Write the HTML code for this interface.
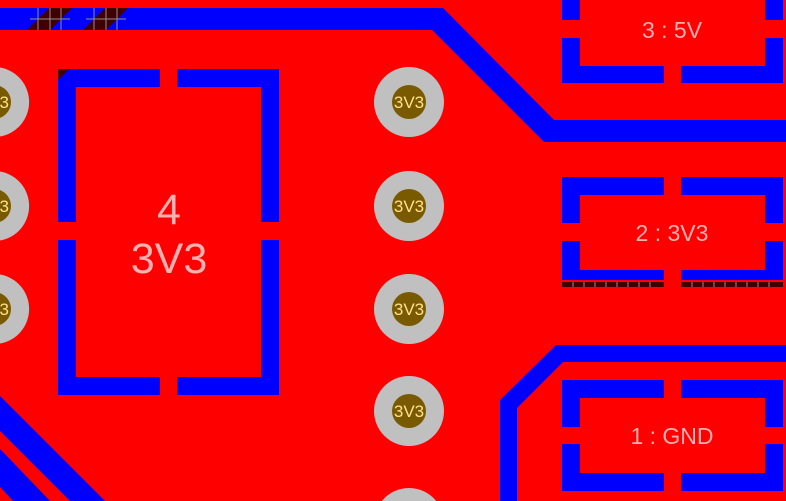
<!DOCTYPE html>
<html><head><style>
html,body{margin:0;padding:0;background:#f00;width:786px;height:501px;overflow:hidden;}
svg{display:block;overflow:hidden;}
text{font-family:"Liberation Sans",sans-serif;}
</style></head><body>
<svg width="786" height="501" viewBox="0 0 786 501" xmlns="http://www.w3.org/2000/svg">
<rect width="786" height="501" fill="#ff0000"/>
<polygon points="0,8 443,8 554,120 786,120 786,142 544,142 432,30 0,30" fill="#0000ff"/>
<polygon points="27,30 49,8 72,8 50,30" fill="#400000"/>
<polygon points="83,30 105,8 128,8 106,30" fill="#400000"/>
<g stroke="#909090" stroke-width="1">
<line x1="38" y1="8" x2="38" y2="30"/><line x1="50" y1="8" x2="50" y2="30"/><line x1="61" y1="8" x2="61" y2="30"/>
<line x1="94" y1="8" x2="94" y2="30"/><line x1="106" y1="8" x2="106" y2="30"/><line x1="117" y1="8" x2="117" y2="30"/>
<line x1="30" y1="19" x2="70" y2="19"/><line x1="86" y1="19" x2="126" y2="19"/>
</g>
<g fill="#0000ff">
<rect x="58" y="69" width="102" height="18"/>
<rect x="177" y="69" width="102" height="18"/>
<rect x="58" y="69" width="18" height="153"/>
<rect x="261" y="69" width="18" height="153"/>
<rect x="58" y="240" width="18" height="155"/>
<rect x="261" y="240" width="18" height="155"/>
<rect x="58" y="377" width="102" height="18"/>
<rect x="177" y="377" width="102" height="18"/>
</g>
<polygon points="58,69 69,69 58,80" fill="#400000"/>
<text x="169" y="224" font-size="43" fill="#ffb0b0" text-anchor="middle">4</text>
<text x="169" y="273" font-size="43" fill="#ffb0b0" text-anchor="middle">3V3</text>
<g fill="#0000ff">
<rect x="562" y="0" width="18" height="20"/>
<rect x="765" y="0" width="18" height="20"/>
<rect x="562" y="38" width="18" height="45"/>
<rect x="765" y="38" width="18" height="45"/>
<rect x="562" y="66" width="102" height="17"/>
<rect x="681" y="66" width="102" height="17"/>
</g>
<text x="672" y="38" font-size="23" fill="#ffb0b0" text-anchor="middle">3 : 5V</text>
<g fill="#0000ff">
<rect x="562" y="177" width="102" height="18"/>
<rect x="681" y="177" width="102" height="18"/>
<rect x="562" y="177" width="18" height="46"/>
<rect x="765" y="177" width="18" height="46"/>
<rect x="562" y="241" width="18" height="39"/>
<rect x="765" y="241" width="18" height="39"/>
<rect x="562" y="270" width="102" height="10"/>
<rect x="681" y="270" width="102" height="10"/>
</g>
<rect x="562" y="282" width="102" height="5" fill="#400000"/>
<rect x="681" y="282" width="102" height="5" fill="#400000"/>
<g stroke="#909090" stroke-width="1">
<line x1="573" y1="282" x2="573" y2="287"/><line x1="584" y1="282" x2="584" y2="287"/><line x1="595" y1="282" x2="595" y2="287"/><line x1="606" y1="282" x2="606" y2="287"/><line x1="617" y1="282" x2="617" y2="287"/><line x1="628" y1="282" x2="628" y2="287"/><line x1="639" y1="282" x2="639" y2="287"/><line x1="650" y1="282" x2="650" y2="287"/>
<line x1="692" y1="282" x2="692" y2="287"/><line x1="703" y1="282" x2="703" y2="287"/><line x1="714" y1="282" x2="714" y2="287"/><line x1="725" y1="282" x2="725" y2="287"/><line x1="736" y1="282" x2="736" y2="287"/><line x1="747" y1="282" x2="747" y2="287"/><line x1="758" y1="282" x2="758" y2="287"/><line x1="769" y1="282" x2="769" y2="287"/>
</g>
<text x="672" y="241" font-size="23" fill="#ffb0b0" text-anchor="middle">2 : 3V3</text>
<polygon points="556,345 786,345 786,362 563,362 517,408 517,501 500,501 500,400" fill="#0000ff"/>
<g fill="#0000ff">
<rect x="562" y="380" width="102" height="18"/>
<rect x="681" y="380" width="102" height="18"/>
<rect x="562" y="380" width="18" height="47"/>
<rect x="765" y="380" width="18" height="47"/>
<rect x="562" y="444" width="18" height="47"/>
<rect x="765" y="444" width="18" height="47"/>
<rect x="562" y="473" width="102" height="18"/>
<rect x="681" y="473" width="102" height="18"/>
</g>
<text x="672" y="444" font-size="23" fill="#ffb0b0" text-anchor="middle">1 : GND</text>
<polygon points="0,396 0,431 70,501 105,501" fill="#0000ff"/>
<polygon points="0,449 0,487 13,501 50,501" fill="#0000ff"/>
<g>
<path d="M0,67.5 A35,35 0 0 1 0,136.5 Z" fill="#c0c0c0"/><path d="M0,86.1 A17,17 0 0 1 0,117.9 Z" fill="#7a5a00"/>
<path d="M0,171.5 A35,35 0 0 1 0,240.5 Z" fill="#c0c0c0"/><path d="M0,190.1 A17,17 0 0 1 0,221.9 Z" fill="#7a5a00"/>
<path d="M0,274.5 A35,35 0 0 1 0,343.5 Z" fill="#c0c0c0"/><path d="M0,293.1 A17,17 0 0 1 0,324.9 Z" fill="#7a5a00"/>
<circle cx="409" cy="102" r="35" fill="#c0c0c0"/><circle cx="409" cy="102" r="17" fill="#7a5a00"/>
<circle cx="409" cy="206" r="35" fill="#c0c0c0"/><circle cx="409" cy="206" r="17" fill="#7a5a00"/>
<circle cx="409" cy="309" r="35" fill="#c0c0c0"/><circle cx="409" cy="309" r="17" fill="#7a5a00"/>
<circle cx="409" cy="411" r="35" fill="#c0c0c0"/><circle cx="409" cy="411" r="17" fill="#7a5a00"/>
<path d="M381.8,501 A35,35 0 0 1 436.2,501 Z" fill="#c0c0c0"/>
</g>
<g font-size="17" fill="#ffe08a" text-anchor="middle">
<text x="409" y="108">3V3</text>
<text x="409" y="212">3V3</text>
<text x="409" y="315">3V3</text>
<text x="409" y="417">3V3</text>
</g>
<g font-size="17" fill="#ffe08a" text-anchor="end">
<text x="9" y="108">3V3</text>
<text x="9" y="212">3V3</text>
<text x="9" y="315">3V3</text>
</g>
</svg>
</body></html>
